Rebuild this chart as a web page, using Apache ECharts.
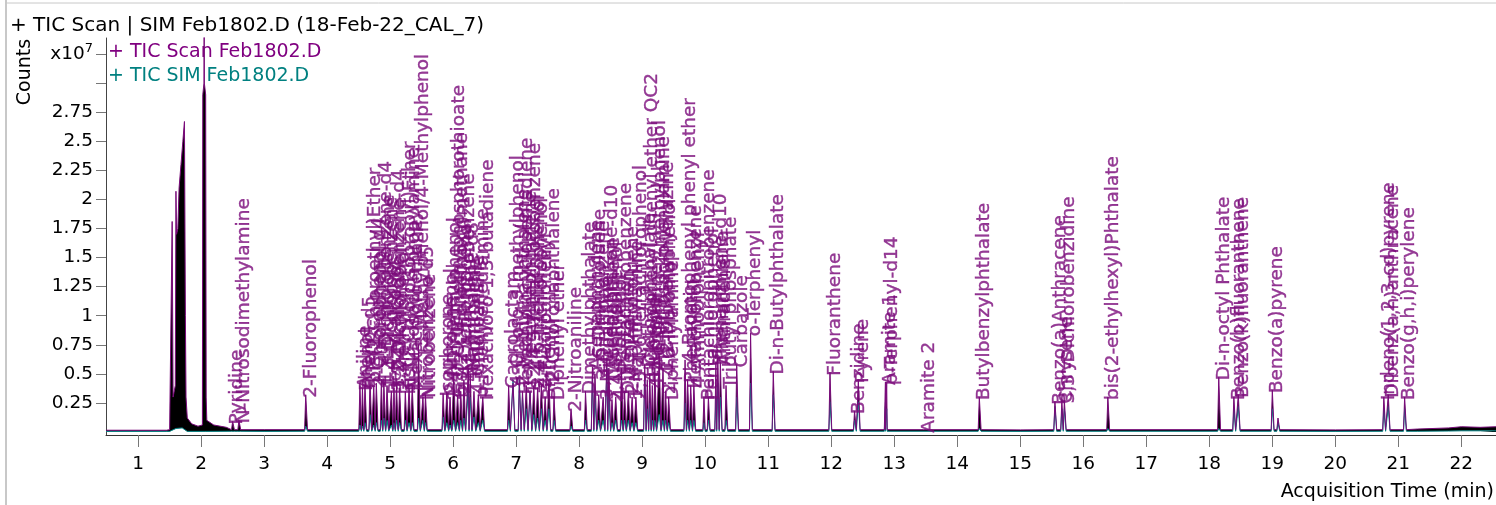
<!DOCTYPE html>
<html><head><meta charset="utf-8">
<script src="https://cdn.jsdelivr.net/npm/echarts@6/dist/echarts.min.js"></script>
<style>html,body{margin:0;padding:0;background:#fff}#chart{width:1496px;height:505px}</style>
</head><body><div id="chart"></div>
<script>
// ---- data (times in min, counts in x10^7) ----
const titleText = '+ TIC Scan | SIM Feb1802.D (18-Feb-22_CAL_7)';
const legendScan = '+ TIC Scan Feb1802.D';
const legendSim = '+ TIC SIM Feb1802.D';
const xTicks = [1,2,3,4,5,6,7,8,9,10,11,12,13,14,15,16,17,18,19,20,21,22];
const yTicks = [0.25,0.5,0.75,1,1.25,1.5,1.75,2,2.25,2.5,2.75,3,3.25];
const yLabels = [0.25,0.5,0.75,1,1.25,1.5,1.75,2,2.25,2.5,2.75,3.25];

// solvent region (explicit trace points)
const solventTime = [1.50,1.53,1.54,1.555,1.59,1.60,1.61,1.63,1.65,1.68,1.71,1.735,1.75,1.76,1.78,1.85,1.95,2.02,2.026,2.045,2.048,2.051,2.072,2.08,2.09,2.2,2.4];
const solventScan = [0.02,0.03,1.81,0.30,0.40,2.07,1.70,1.75,2.10,2.30,2.50,2.67,1.00,0.30,0.12,0.07,0.05,0.06,2.90,3.00,3.60,3.00,2.90,0.30,0.10,0.06,0.04];
const solventSimTime = [1.50,1.60,1.70,1.78,2.03,2.05,2.07];
const solventSim = [0.005,0.03,0.035,0.005,0.005,0.02,0.005];

// baseline
const baseTime = [0.49,1.45,2.6,3.0,6.0,10.0,15.0,20.0,21.3,21.8,22.0,22.3,22.55];
const baseScan = [0.015,0.015,0.03,0.02,0.02,0.02,0.018,0.018,0.025,0.035,0.045,0.04,0.045];
const baseSim = [0.005,0.005,0.005,0.005,0.005,0.005,0.005,0.005,0.006,0.008,0.01,0.01,0.01];

// peaks
const peakTime = [
 2.50,2.60,3.66,
 4.52,4.56,4.60,4.68,4.74,4.78,4.86,4.90,4.95,5.02,5.06,5.10,5.15,5.24,5.30,5.35,5.45,5.52,5.56,
 5.84,5.90,5.95,6.01,6.07,6.12,6.17,6.24,6.27,6.33,6.40,6.47,
 6.88,6.95,7.05,7.10,7.16,7.22,7.28,7.34,7.40,7.46,7.52,7.60,7.87,
 8.10,8.21,8.25,8.31,8.38,8.44,8.47,8.52,8.58,8.67,8.72,8.78,8.84,8.90,
 9.04,9.08,9.12,9.16,9.20,9.27,9.33,9.37,9.42,9.68,9.72,9.77,9.82,9.98,10.05,10.17,10.20,10.24,10.33,10.50,10.72,11.08,
 11.98,12.37,12.43,12.86,12.88,13.48,14.35,15.55,15.66,15.70,16.39,18.15,18.39,18.46,19.00,19.09,20.77,20.84,21.10
];
const scanHeight = [
 0.09,0.10,0.32,
 0.40,0.38,0.40,0.45,0.40,0.42,0.45,0.42,0.40,0.35,0.38,0.40,0.38,0.35,0.38,0.40,0.75,0.30,0.32,
 0.33,0.35,0.30,0.50,0.32,0.35,0.45,0.55,0.50,0.35,0.32,0.30,
 0.40,0.42,0.42,0.35,0.40,0.35,0.40,0.38,0.40,0.30,0.45,0.30,0.20,
 0.35,0.56,0.50,0.32,0.30,0.64,0.55,0.28,0.30,0.55,0.35,0.35,0.30,0.30,
 0.58,0.45,0.50,0.40,0.55,0.65,0.55,0.35,0.30,0.62,0.45,0.40,0.40,0.30,0.30,0.60,0.64,0.60,0.40,0.58,0.85,0.52,
 0.51,0.18,0.45,0.43,0.43,0.02,0.30,0.26,0.27,0.27,0.30,0.47,0.30,0.32,0.36,0.12,0.30,0.32,0.30
];
const simHeight = [
 0.02,0.02,0.05,
 0.06,0.05,0.08,0.15,0.06,0.08,0.10,0.12,0.10,0.06,0.08,0.10,0.08,0.10,0.08,0.08,0.12,0.10,0.08,
 0.13,0.08,0.06,0.10,0.08,0.10,0.12,0.38,0.30,0.13,0.08,0.10,
 0.10,0.45,0.45,0.30,0.20,0.34,0.15,0.12,0.20,0.10,0.20,0.10,0.05,
 0.10,0.47,0.30,0.10,0.10,0.55,0.30,0.08,0.10,0.10,0.10,0.10,0.08,0.08,
 0.50,0.20,0.25,0.10,0.10,0.15,0.10,0.10,0.08,0.25,0.10,0.10,0.10,0.08,0.10,0.30,0.42,0.30,0.10,0.30,0.42,0.32,
 0.26,0.10,0.26,0.22,0.20,0.00,0.03,0.22,0.20,0.20,0.03,0.03,0.20,0.22,0.20,0.08,0.20,0.22,0.20
];
const peakLabel = [
 'Pyridine','N-Nitrosodimethylamine','2-Fluorophenol',
 'Aniline','Phenol','Phenol-d5','bis(2-Chloroethyl)Ether','2-Chlorophenol-d4','2-Chlorophenol','1,4-Dichlorobenzene-d4','1,3-Dichlorobenzene','1,4-Dichlorobenzene','Benzyl alcohol','1,2-Dichlorobenzene-d4','1,2-Dichlorobenzene','2-Methylphenol','bis(2-Chloroisopropyl)Ether','N-Nitrosodi-n-propylamine','Hexachloroethane','3-Methylphenol/4-Methylphenol','Nitrobenzene-d5','Nitrobenzene',
 'Isophorone','2-Nitrophenol','2,4-Dimethylphenol','O,O,O-Triethylphosphorothioate','bis(2-Chloroethoxy)methane','2,4-Dichlorophenol','1,2,4-Trichlorobenzene','Naphthalene-d8','Naphthalene','4-Chloroaniline','p-Phenylenediamine','Hexachloro-1,3-butadiene',
 'Caprolactam','4-Chloro-3-methylphenol','2-Methylnaphthalene','Hexachlorocyclopentadiene','1-Methylnaphthalene','1,2,4,5-Tetrachlorobenzene','2,4,6-Trichlorophenol','2,4,5-Trichlorophenol','2-Fluorobiphenyl','Biphenyl','2-Chloronaphthalene','Diphenyl ether','2-Nitroaniline',
 'Dimethylphthalate','Acenaphthylene','2,6-Dinitrotoluene','1,3-Dinitrobenzene','3-Nitroaniline','Acenaphthene-d10','Acenaphthene','2,4-Dinitrophenol','4-Nitrophenol','Pentachlorobenzene','Dibenzofuran','2,4-Dinitrotoluene','1-Naphthylamine','2,3,4,6-Tetrachlorophenol',
 'Diethylphthalate','4-Chlorophenyl phenyl ether QC2','Fluorene','4-Nitroaniline','4,6-Dinitro-2-methylphenol','N-Nitrosodiphenylamine','1,2-Diphenylhydrazine','2,4,6-Tribromophenol','Diphenylamine','4-Bromophenyl phenyl ether','Phenacetin','Hexachlorobenzene','4-Aminobiphenyl','Pentachloronitrobenzene','Pentachlorophenol','Phenanthrene-d10','Phenanthrene','Anthracene','Tributyl phosphate','Carbazole','o-Terphenyl','Di-n-Butylphthalate',
 'Fluoranthene','Benzidine','Pyrene','Aramite 1','p-Terphenyl-d14','Aramite 2','Butylbenzylphthalate','Benzo(a)Anthracene','Chrysene','3,3\'-Dichlorobenzidine','bis(2-ethylhexyl)Phthalate','Di-n-octyl Phthalate','Benzo(b)fluoranthene','Benzo(k)fluoranthene','Benzo(a)pyrene','','Indeno(1,2,3-cd)pyrene','Dibenz(a,h)anthracene','Benzo(g,h,i)perylene'
];

// ---- build traces ----
const PEAK_BASE = 0.02, SIM_BASE = 0.006;
function buildTrace(heights, base, tSolv, vSolv, bT, bV) {
  const pts = [];
  for (let i = 0; i < tSolv.length; i++) pts.push([tSolv[i], vSolv[i]]);
  for (let i = 0; i < bT.length; i++) {
    if (bT[i] > tSolv[0] && bT[i] < tSolv[tSolv.length - 1]) continue;
    pts.push([bT[i], bV[i]]);
  }
  for (let i = 0; i < peakTime.length; i++) {
    const h = heights[i];
    if (!h) continue;
    pts.push([peakTime[i] - 0.018, base]);
    pts.push([peakTime[i], h]);
    pts.push([peakTime[i] + 0.028, base]);
  }
  pts.sort((a, b) => a[0] - b[0]);
  return pts;
}
const scanData = buildTrace(scanHeight, PEAK_BASE, solventTime, solventScan, baseTime, baseScan);
const simData = buildTrace(simHeight, SIM_BASE, solventSimTime, solventSim, baseTime, baseSim);
const labelData = [];
for (let i = 0; i < peakTime.length; i++) {
  if (peakLabel[i]) labelData.push([peakTime[i], scanHeight[i], peakLabel[i]]);
}

const FONT = 'DejaVu Sans';
const PURPLE = '#7a0a7a', TEAL = '#008080';
const chart = echarts.init(document.getElementById('chart'), null, {renderer: 'canvas'});
chart.setOption({
  animation: false,
  backgroundColor: '#fff',
  grid: {left: 106, right: 0, top: 38, bottom: 70, containLabel: false},
  xAxis: {
    type: 'value', min: 0.49, max: 22.55,
    axisLine: {show: true, onZero: false, lineStyle: {color: '#333', width: 1}},
    axisTick: {show: true, customValues: xTicks, length: 12, lineStyle: {color: '#777'}},
    axisLabel: {customValues: xTicks, color: '#000', fontSize: 18.5, fontFamily: FONT, margin: 20},
    splitLine: {show: false}
  },
  yAxis: {
    type: 'value', min: -0.026, max: 3.388,
    axisLine: {show: true, onZero: false, lineStyle: {color: '#444', width: 1}},
    axisTick: {show: true, customValues: yTicks, length: 10, lineStyle: {color: '#777'}},
    axisLabel: {
      customValues: yLabels, color: '#000', fontSize: 18.5, fontFamily: FONT, margin: 13,
      formatter: v => (Math.abs(v - 3.25) < 1e-6 ? '{a|x10}{b|7}' : String(v)),
      rich: {a: {fontSize: 18.5, fontFamily: FONT, color: '#000'}, b: {fontSize: 13, fontFamily: FONT, color: '#000', verticalAlign: 'top', padding: [0, 0, 10, 0]}}
    },
    splitLine: {show: false}
  },
  series: [
    {type: 'line', data: scanData, symbol: 'none', z: 1, silent: true,
     lineStyle: {width: 0, opacity: 0}, areaStyle: {color: '#000', opacity: 1, origin: 0}},
    {type: 'line', data: simData, symbol: 'none', z: 2, silent: true,
     lineStyle: {width: 1, color: TEAL}, itemStyle: {color: TEAL}, areaStyle: {color: '#fff', opacity: 1, origin: 0}},
    {type: 'line', data: scanData, symbol: 'none', z: 3, silent: true,
     lineStyle: {width: 1, color: PURPLE}, itemStyle: {color: PURPLE}},
    {type: 'scatter', data: labelData, symbolSize: 0, z: 4, silent: true,
     label: {show: true, formatter: p => p.data[2], rotate: 90, position: 'top', distance: 0,
       align: 'left', verticalAlign: 'middle', offset: [-3, 5],
       color: PURPLE, fontSize: 18.5, fontFamily: FONT, textBorderColor: PURPLE, textBorderWidth: 0.4}}
  ],
  graphic: [
    {type: 'line', shape: {x1: 6, y1: 0, x2: 6, y2: 505}, style: {stroke: '#c8c8c8', lineWidth: 2}},
    {type: 'line', shape: {x1: 6, y1: 3, x2: 1496, y2: 3}, style: {stroke: '#c8c8c8', lineWidth: 1}},
    {type: 'text', x: 10, y: 26, style: {text: titleText, fontSize: 20, fontFamily: FONT, fill: '#000', textVerticalAlign: 'middle'}},
    {type: 'text', x: 108, y: 52, style: {text: legendScan, fontSize: 19, fontFamily: FONT, fill: '#800080', textVerticalAlign: 'middle'}},
    {type: 'text', x: 108, y: 76, style: {text: legendSim, fontSize: 19, fontFamily: FONT, fill: TEAL, textVerticalAlign: 'middle'}},
    {type: 'text', x: 25, y: 72, rotation: Math.PI / 2, style: {text: 'Counts', fontSize: 19, fontFamily: FONT, fill: '#000', textAlign: 'center', textVerticalAlign: 'middle'}},
    {type: 'text', x: 1494, y: 492, style: {text: 'Acquisition Time (min)', fontSize: 19, fontFamily: FONT, fill: '#000', textAlign: 'right', textVerticalAlign: 'middle'}}
  ]
});
</script></body></html>
